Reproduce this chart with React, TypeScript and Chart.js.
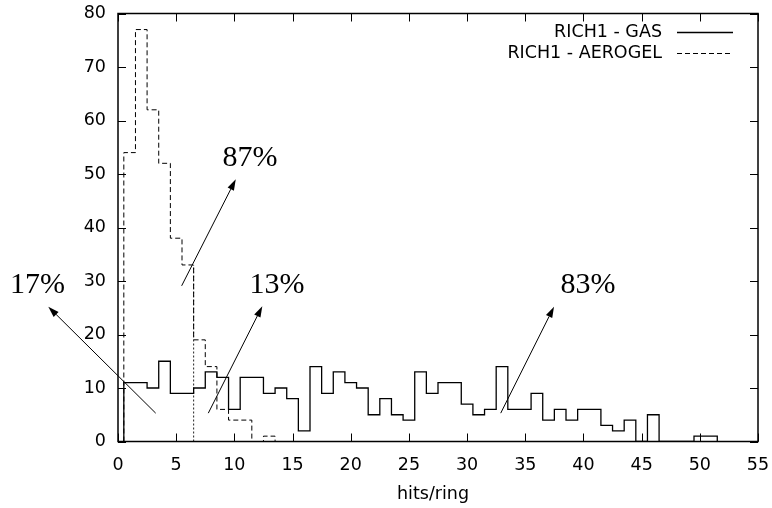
import React, { useEffect, useRef } from 'react';
import { Chart, registerables } from 'chart.js';

Chart.register(...registerables);

// ---- data ----
const gasBins = [1,2,3,4,5,6,7,8,9,10,11,12,13,14,15,16,17,18,19,20,21,22,23,24,25,26,27,28,29,30,31,32,33,34,35,36,37,38,39,40,41,42,43,44,45,46,47,48,49,50,51];
const gasValues = [11,11,10,15,9,9,10,13,12,6,12,12,9,10,8,2,14,9,13,11,10,5,8,5,4,13,9,11,11,7,5,6,14,6,6,9,4,6,4,6,6,3,2,4,0,5,0,0,0,1,1];
const aeroBins = [1,2,3,4,5,6,7,8,9,10,11,12,13];
const aeroValues = [54,77,62,52,38,33,19,14,6,4,4,0,1];
const cutX = 6.5;
const cutTop = 33;
const xTickValues = [0,5,10,15,20,25,30,35,40,45,50,55];
const yTickValues = [0,10,20,30,40,50,60,70,80];
const seriesNames = ['RICH1 - GAS', 'RICH1 - AEROGEL'];
const xTitle = 'hits/ring';
// annotations (data coordinates)
const arrowTexts = ['87%', '17%', '13%', '83%'];
const arrowTail = [[5.47, 29.1], [3.24, 5.3], [7.76, 5.3], [32.89, 5.3]];
const arrowHead = [[10.12, 49.0], [-5.99, 25.2], [12.4, 25.3], [37.47, 25.2]];
const labelPos = [[11.34, 53.0], [-6.92, 29.2], [13.66, 29.2], [40.4, 29.2]];

function histPoints(bins: number[], values: number[]) {
  const pts: { x: number; y: number }[] = [];
  pts.push({ x: bins[0] - 0.5, y: 0 });
  bins.forEach((b, i) => pts.push({ x: b - 0.5, y: values[i] }));
  const last = bins[bins.length - 1] + 0.5;
  pts.push({ x: last, y: values[values.length - 1] });
  pts.push({ x: last, y: 0 });
  return pts;
}

const SANS = '"DejaVu Sans", "Liberation Sans", sans-serif';
const SERIF = '"Liberation Serif", "DejaVu Serif", serif';

const overlay = {
  id: 'overlay',
  afterDraw(chart: any) {
    const ctx = chart.ctx as CanvasRenderingContext2D;
    const xs = chart.scales.x;
    const ys = chart.scales.y;
    const { left, right, top, bottom } = chart.chartArea;
    ctx.save();
    // ticks (inward, mirrored)
    ctx.strokeStyle = '#000';
    ctx.lineWidth = 1;
    ctx.beginPath();
    xTickValues.forEach((v) => {
      const px = Math.round(xs.getPixelForValue(v)) + 0.5;
      ctx.moveTo(px, bottom); ctx.lineTo(px, bottom - 8);
      ctx.moveTo(px, top); ctx.lineTo(px, top + 8);
    });
    yTickValues.forEach((v) => {
      const py = Math.round(ys.getPixelForValue(v)) + 0.5;
      ctx.moveTo(left, py); ctx.lineTo(left + 8, py);
      ctx.moveTo(right, py); ctx.lineTo(right - 8, py);
    });
    ctx.stroke();
    // border
    ctx.lineWidth = 1.5;
    ctx.strokeRect(left, top, right - left, bottom - top);

    // arrows
    ctx.lineWidth = 1;
    ctx.fillStyle = '#000';
    arrowTail.forEach((t, i) => {
      const x1 = xs.getPixelForValue(t[0]);
      const y1 = ys.getPixelForValue(t[1]);
      const x2 = xs.getPixelForValue(arrowHead[i][0]);
      const y2 = ys.getPixelForValue(arrowHead[i][1]);
      const ang = Math.atan2(y2 - y1, x2 - x1);
      const L = 11, W = 3.5;
      const bx = x2 - L * Math.cos(ang);
      const by = y2 - L * Math.sin(ang);
      ctx.beginPath();
      ctx.moveTo(x1, y1); ctx.lineTo(bx, by);
      ctx.stroke();
      ctx.beginPath();
      ctx.moveTo(x2, y2);
      ctx.lineTo(bx + W * Math.sin(ang), by - W * Math.cos(ang));
      ctx.lineTo(bx - W * Math.sin(ang), by + W * Math.cos(ang));
      ctx.closePath();
      ctx.fill();
    });
    // percentage labels
    ctx.font = '30px ' + SERIF;
    ctx.textAlign = 'center';
    ctx.textBaseline = 'middle';
    labelPos.forEach((p, i) => {
      ctx.fillText(arrowTexts[i], xs.getPixelForValue(p[0]), ys.getPixelForValue(p[1]));
    });

    // legend
    ctx.font = '17.5px ' + SANS;
    ctx.textAlign = 'right';
    ctx.textBaseline = 'middle';
    const lx = 662, sx1 = 677, sx2 = 733;
    const ly = [32, 53];
    seriesNames.forEach((n, i) => {
      ctx.fillText(n, lx, ly[i]);
      ctx.beginPath();
      ctx.setLineDash(i === 0 ? [] : [5, 3]);
      ctx.lineWidth = i === 0 ? 1.3 : 1;
      ctx.moveTo(sx1, ly[i] + 0.5); ctx.lineTo(sx2, ly[i] + 0.5);
      ctx.stroke();
    });
    ctx.setLineDash([]);

    // axis title
    ctx.textAlign = 'center';
    ctx.fillText(xTitle, 433, 494);
    ctx.restore();
  },
};

const zeroPad = (s: any) => {
  s.paddingTop = 0; s.paddingBottom = 0; s.paddingLeft = 0; s.paddingRight = 0;
};

export default function App() {
  const ref = useRef<HTMLCanvasElement | null>(null);
  useEffect(() => {
    if (!ref.current) return;
    const chart = new Chart(ref.current, {
      type: 'line',
      data: {
        datasets: [
          {
            label: seriesNames[0],
            data: histPoints(gasBins, gasValues),
            stepped: true,
            borderColor: '#000',
            borderWidth: 1.3,
            pointRadius: 0,
            fill: false,
          },
          {
            label: seriesNames[1],
            data: histPoints(aeroBins, aeroValues),
            stepped: true,
            borderColor: '#000',
            borderWidth: 1,
            borderDash: [5, 3],
            pointRadius: 0,
            fill: false,
          },
          {
            label: 'cut',
            data: [{ x: cutX, y: 0 }, { x: cutX, y: cutTop }],
            borderColor: '#222',
            borderWidth: 1,
            borderDash: [2, 2],
            pointRadius: 0,
            fill: false,
          },
        ],
      },
      options: {
        animation: false,
        responsive: false,
        devicePixelRatio: 1,
        layout: { padding: { top: 13.5, right: 14, left: 0, bottom: 0 } },
        plugins: { legend: { display: false }, tooltip: { enabled: false } },
        scales: {
          x: {
            type: 'linear',
            min: 0,
            max: 55,
            afterBuildTicks: (s: any) => { s.ticks = xTickValues.map((v) => ({ value: v })); },
            afterFit: (s: any) => { s.height = 66.5; zeroPad(s); },
            grid: { display: false, drawTicks: false },
            border: { display: false },
            ticks: { color: '#000', padding: 13, maxRotation: 0, font: { family: SANS, size: 17.5 } },
          },
          y: {
            type: 'linear',
            min: 0,
            max: 80,
            afterBuildTicks: (s: any) => { s.ticks = yTickValues.map((v) => ({ value: v })); },
            afterFit: (s: any) => { s.width = 118; zeroPad(s); },
            grid: { display: false, drawTicks: false },
            border: { display: false },
            ticks: { color: '#000', padding: 12, font: { family: SANS, size: 17.5 } },
          },
        },
      },
      plugins: [overlay],
    } as any);
    return () => chart.destroy();
  }, []);
  return (
    <div style={{ position: 'absolute', left: 0, top: 0, width: 772, height: 508, background: '#fff' }}>
      <canvas ref={ref} width={772} height={508} style={{ display: 'block' }} />
    </div>
  );
}
